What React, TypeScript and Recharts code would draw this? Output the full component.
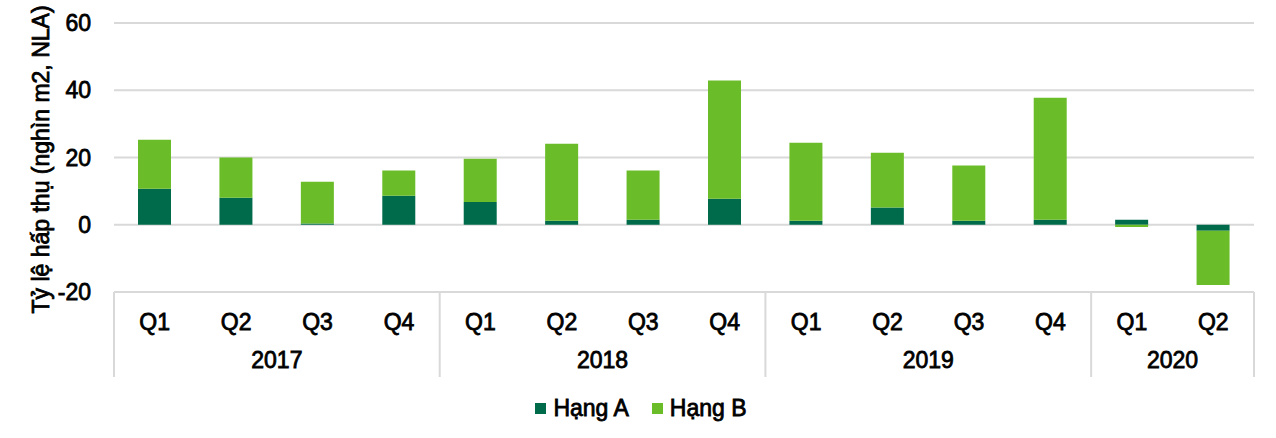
import React from 'react';
import { BarChart, Bar, XAxis, YAxis, CartesianGrid, Legend } from 'recharts';

const quarters = ['Q1', 'Q2', 'Q3', 'Q4', 'Q1', 'Q2', 'Q3', 'Q4', 'Q1', 'Q2', 'Q3', 'Q4', 'Q1', 'Q2'];
const years = ['2017', '2017', '2017', '2017', '2018', '2018', '2018', '2018', '2019', '2019', '2019', '2019', '2020', '2020'];
const hangA = [10.7, 8.0, 0.4, 8.6, 6.8, 1.2, 1.5, 7.7, 1.2, 5.1, 1.2, 1.5, 1.5, -1.8];
const hangB = [14.6, 12.0, 12.4, 7.5, 12.8, 22.9, 14.6, 35.2, 23.2, 16.3, 16.4, 36.3, -0.7, -16.1];
const yTicks = [-20, 0, 20, 40, 60];

const W = 1276;
const H = 438;
const LEFT = 114;
const RIGHT = 22;
const GRID = '#d9d9d9';
const FONT = '"Liberation Sans", Arial, sans-serif';
const FS = 23;
const COLORS = { a: '#006b4b', b: '#6abd28' };

// svg text looks heavier in the source, a thin stroke gets close
const txt = { fill: '#000', fontSize: FS, fontFamily: FONT, stroke: '#000', strokeWidth: 0.8 };

const data = quarters.map((q, i) => ({ key: `${years[i]}-${q}`, q, year: years[i], a: hangA[i], b: hangB[i] }));

const step = (W - LEFT - RIGHT) / quarters.length;

// Two-level category tick: quarter on top, year + separators below
const QuarterTick = ({ x, y, payload }: any) => {
  const i = payload.index;
  const yr = years[i];
  const first = i === 0 || years[i - 1] !== yr;
  const last = i === years.length - 1;
  const groupSize = years.filter(v => v === yr).length;
  return (
    <g>
      <text x={x} y={y + 38} textAnchor="middle" {...txt}>
        {quarters[i]}
      </text>
      {first && (
        <>
          <line x1={x - step / 2} x2={x - step / 2} y1={y} y2={y + 85} stroke={GRID} strokeWidth={2} />
          <text x={x + (step * (groupSize - 1)) / 2} y={y + 76} textAnchor="middle" {...txt}>
            {yr}
          </text>
        </>
      )}
      {last && <line x1={x + step / 2} x2={x + step / 2} y1={y} y2={y + 85} stroke={GRID} strokeWidth={2} />}
    </g>
  );
};

const YTitle = ({ viewBox }: any) => {
  const cx = viewBox.x + 41;
  const cy = viewBox.y + viewBox.height / 2 + 2;
  return (
    <text x={cx} y={cy} transform={`rotate(-90, ${cx}, ${cy})`} textAnchor="middle" dominantBaseline="central" {...txt}>
      Tỷ lệ hấp thụ (nghìn m2, NLA)
    </text>
  );
};

const LegendContent = ({ payload }: any) => (
  <div style={{ display: 'flex', justifyContent: 'center', gap: 23, paddingTop: 3, marginLeft: 28 }}>
    {payload.map((p: any) => (
      <div key={p.value} style={{ display: 'flex', alignItems: 'center', gap: 7 }}>
        <span style={{ width: 11, height: 11, background: p.color, display: 'inline-block' }} />
        <span style={{ fontFamily: FONT, fontSize: FS, color: '#000', WebkitTextStroke: '0.8px #000' }}>{p.value}</span>
      </div>
    ))}
  </div>
);

export default function App() {
  return (
    <div style={{ position: 'absolute', left: 0, top: 0, width: W, height: H, background: '#fff' }}>
      <BarChart width={W} height={H} data={data} stackOffset="sign" margin={{ top: 23, right: RIGHT, left: 0, bottom: 0 }}>
        <CartesianGrid vertical={false} stroke={GRID} strokeWidth={2} />
        <XAxis dataKey="key" axisLine={false} tickLine={false} tickSize={0} tickMargin={0} height={100}
          interval={0} tick={<QuarterTick />} />
        <YAxis domain={[-20, 60]} ticks={yTicks} width={LEFT} axisLine={false} tickLine={false} tickSize={0} tickMargin={23}
          tick={txt} label={<YTitle />} />
        <Legend verticalAlign="bottom" height={46} content={<LegendContent />} />
        <Bar dataKey="a" name="Hạng A" stackId="s" fill={COLORS.a} barSize={33} isAnimationActive={false} />
        <Bar dataKey="b" name="Hạng B" stackId="s" fill={COLORS.b} barSize={33} isAnimationActive={false} />
      </BarChart>
    </div>
  );
}
